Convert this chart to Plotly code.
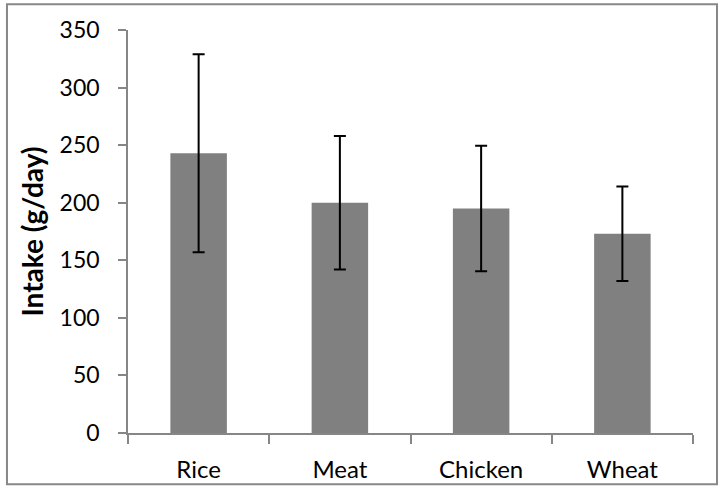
import plotly.graph_objects as go

categories = ["Rice", "Meat", "Chicken", "Wheat"]
intake = [243, 200, 195, 173]
intake_err = [86, 58, 54.5, 41]
y_ticks = [0, 50, 100, 150, 200, 250, 300, 350]

fig = go.Figure()
fig.add_trace(go.Bar(
    x=categories, y=intake,
    marker=dict(color="#808080", line=dict(width=0)),
    width=0.4,
    error_y=dict(type="data", array=intake_err, visible=True,
                 color="black", thickness=2, width=6),
))

FONT = "Lato"
fig.update_layout(
    width=727, height=492,
    margin=dict(l=128, r=34, t=30, b=59),
    paper_bgcolor="white", plot_bgcolor="white",
    showlegend=False,
    font=dict(family=FONT, size=22, color="black"),
    xaxis=dict(
        type="category", range=[-0.5, 3.5], automargin=False,
        showline=True, linecolor="#868686", linewidth=1.5,
        ticks="outside", ticklen=9, tickcolor="#868686", tickwidth=1.5,
        tickson="boundaries", showgrid=False, zeroline=False,
        ticklabelstandoff=14,
        tickfont=dict(family=FONT, size=24, color="black"),
    ),
    yaxis=dict(
        range=[0, 350], automargin=False,
        tickvals=y_ticks, ticktext=[str(v) for v in y_ticks],
        showline=True, linecolor="#868686", linewidth=1.5,
        ticks="outside", ticklen=8, tickcolor="#868686", tickwidth=1.5,
        showgrid=False, zeroline=False,
        ticklabelstandoff=14,
        tickfont=dict(family=FONT, size=23, color="black"),
        title=dict(text="<b>Intake (g/day)</b>", standoff=8,
                   font=dict(family=FONT, size=28, color="black")),
    ),
    shapes=[dict(type="rect", xref="paper", yref="paper",
                 x0=-0.2142, x1=1.0425, y0=-0.1273, y1=1.0637,
                 line=dict(color="#888888", width=2), fillcolor="rgba(0,0,0,0)",
                 layer="below")],
)

fig.write_html("out.html", config={"displayModeBar": False},
               post_script="document.body.style.margin='0';")
